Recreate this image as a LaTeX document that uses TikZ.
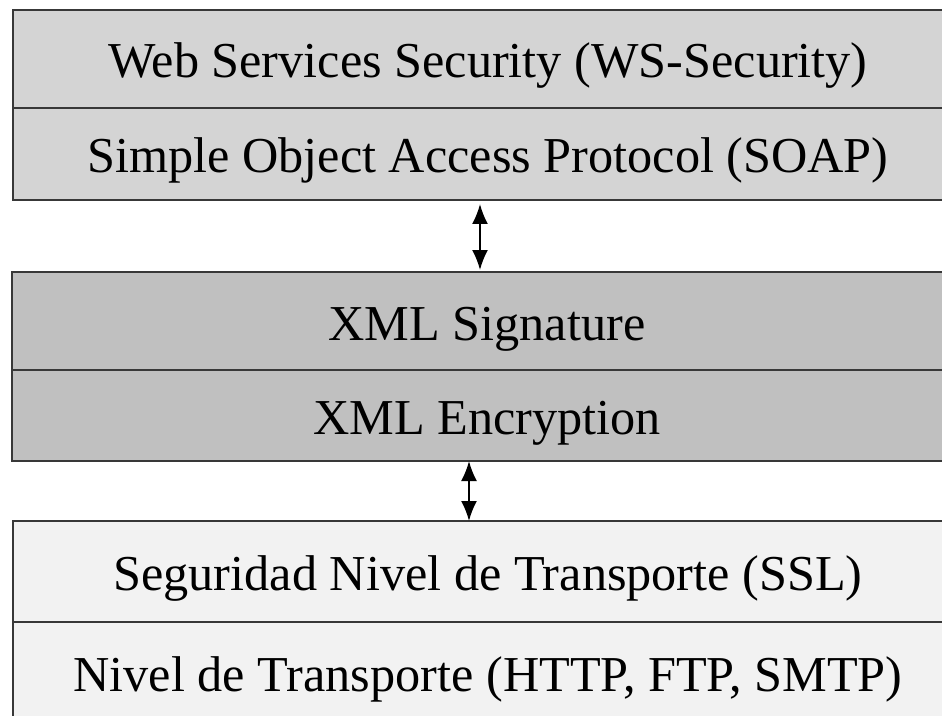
\documentclass[tikz,border=0pt]{standalone}
\usepackage{fontspec}
\setmainfont{Liberation Serif}
\usetikzlibrary{arrows.meta,positioning}

\definecolor{wsgray}{HTML}{D4D4D4}
\definecolor{xmlgray}{HTML}{C0C0C0}
\definecolor{tlsgray}{HTML}{F2F2F2}
\definecolor{rulegray}{HTML}{383838}

\begin{document}
\begin{tikzpicture}[
  layer/.style={rectangle, draw=rulegray, line width=1.1pt, outer sep=0pt,
    minimum width=19cm, text height=1cm, text depth=0.24cm,
    font=\fontsize{28.6}{34}\selectfont},
  >={Latex[length=0.4cm,width=0.32cm]}
]
  \useasboundingbox (0,0) rectangle (18.84,-14.32);
  \clip (0,0) rectangle (18.84,-14.32);

  % Web services stack
  \node[layer, fill=wsgray, minimum height=1.96cm, anchor=north] (wss) at (9.76,-0.2)
    {Web Services Security (WS-Security)};
  \node[layer, fill=wsgray, minimum height=1.84cm, below=0pt of wss] (soap)
    {Simple Object Access Protocol (SOAP)};

  % XML security
  \node[layer, fill=xmlgray, minimum height=1.96cm, anchor=north] (xmlsig) at (9.74,-5.44)
    {XML Signature};
  \node[layer, fill=xmlgray, minimum height=1.82cm, below=0pt of xmlsig] (xmlenc)
    {XML Encryption};

  % Transport layer
  \node[layer, fill=tlsgray, minimum height=2.02cm, anchor=north] (ssl) at (9.76,-10.42)
    {Seguridad Nivel de Transporte (SSL)};
  \node[layer, fill=tlsgray, minimum height=2cm, below=0pt of ssl] (transport)
    {Nivel de Transporte (HTTP, FTP, SMTP)};

  % Links between the layers
  \draw[<->, line width=1.1pt] ([xshift=-0.16cm, yshift=-0.08cm]soap.south)
    -- ([xshift=-0.14cm, yshift=0.04cm]xmlsig.north);
  \draw[<->, line width=1.1pt] ([xshift=-0.36cm]xmlenc.south)
    -- ([xshift=-0.38cm]ssl.north);
\end{tikzpicture}
\end{document}
